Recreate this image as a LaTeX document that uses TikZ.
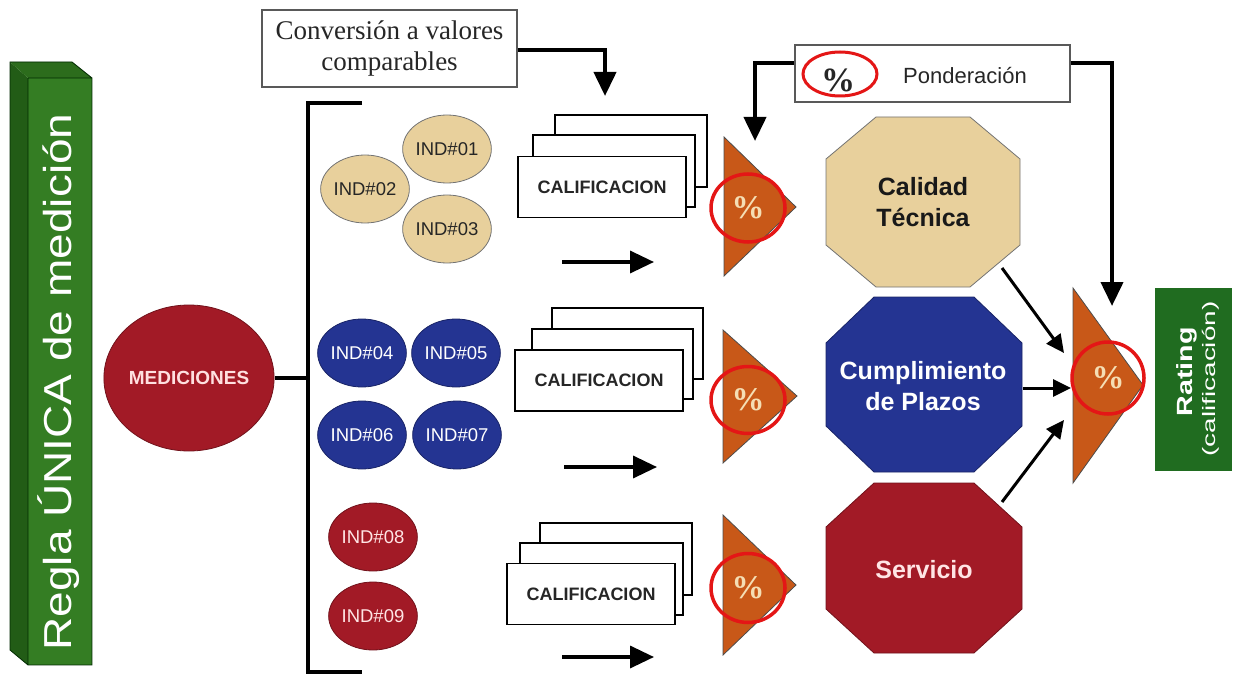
\documentclass[tikz,border=0pt]{standalone}
\usepackage{graphicx}
\usepackage{fontspec}
\setmainfont{Liberation Sans}
\newfontfamily\serifface{Liberation Serif}
\usetikzlibrary{arrows.meta,shapes.geometric}

\definecolor{barfront}{RGB}{52,125,35}
\definecolor{barside}{RGB}{34,92,22}
\definecolor{bartop}{RGB}{44,108,28}
\definecolor{ratinggreen}{RGB}{32,108,32}
\definecolor{tanfill}{RGB}{232,208,156}
\definecolor{bluefill}{RGB}{36,52,146}
\definecolor{redfill}{RGB}{162,26,38}
\definecolor{wedge}{RGB}{200,88,24}
\definecolor{ringred}{RGB}{228,22,22}
\definecolor{pctcream}{RGB}{245,222,180}

% octagon with centre (#1,#2), half sizes #3,#4 and corner cuts #5,#6
\newcommand\octapath[6]{%
  ({#1-#3+#5},{#2-#4}) -- ({#1+#3-#5},{#2-#4}) -- ({#1+#3},{#2-#4+#6}) --
  ({#1+#3},{#2+#4-#6}) -- ({#1+#3-#5},{#2+#4}) -- ({#1-#3+#5},{#2+#4}) --
  ({#1-#3},{#2+#4-#6}) -- ({#1-#3},{#2-#4+#6}) -- cycle}

\begin{document}
\begin{tikzpicture}[x=1pt,y=-1pt,
  ind/.style={ellipse, minimum width=82, minimum height=68, inner sep=0pt,
    font=\fontsize{18.5}{20}\selectfont},
  indtan/.style={ind, fill=tanfill, draw=black!55, line width=0.8, text=black!85},
  indblue/.style={ind, fill=bluefill, draw=bluefill!70!black, line width=0.8, text=white},
  indred/.style={ind, fill=redfill, draw=redfill!70!black, line width=0.8, text=white!90!red},
  calif/.style={draw=black, line width=1.3, fill=white},
  califfront/.style={calif, minimum width=168, minimum height=61, inner sep=0pt,
    font=\fontsize{18}{20}\selectfont\bfseries, text=black!85},
  wedgeshape/.style={fill=wedge, draw=black!70, line width=0.8},
  ring/.style={draw=ringred, line width=3.5},
  pct/.style={font=\serifface\fontsize{33}{33}\selectfont\bfseries, text=pctcream},
  flow/.style={line width=3.5, -{Triangle[length=24, width=22]}},
  feed/.style={line width=3, -{Triangle[length=18, width=17]}},
  bracket/.style={line width=3.5},
  octlabel/.style={align=center, font=\fontsize{25}{31}\selectfont\bfseries},
  textbox/.style={draw=black!65, line width=1.3, fill=white}
]
\useasboundingbox (0,0) rectangle (1236,679);

% --- left vertical bar -------------------------------------------------
\fill[barside] (10,62) -- (28,78) -- (28,665) -- (10,650) -- cycle;
\fill[bartop] (10,62) -- (72,62) -- (92,78) -- (28,78) -- cycle;
\fill[barfront] (28,78) rectangle (92,665);
\draw[black!60!green!40!black, line width=0.8]
  (10,62) -- (72,62) -- (92,78) -- (92,665) -- (28,665) -- (10,650) -- cycle
  (28,78) -- (92,78) (28,78) -- (28,665);
\node[rotate=90, text=white, font=\fontsize{39}{40}\selectfont] (regla) at (59,382)
  {\scalebox{1.18}[1]{Regla ÚNICA de medición}};

% --- measurements and bracket -----------------------------------------
\node[ellipse, fill=redfill, draw=redfill!70!black, line width=0.8,
  minimum width=168, minimum height=146, inner sep=0pt,
  text=white!88!red, font=\fontsize{19}{20}\selectfont\bfseries] (med) at (189,378) {MEDICIONES};
\coordinate (brtopR) at (362,103);
\coordinate (brtop) at (308,103);
\coordinate (brmid) at (308,378);
\coordinate (brbot) at (308,672);
\coordinate (brbotR) at (362,672);
\draw[bracket] (brtopR) -- (brtop) -- (brbot) -- (brbotR);
\draw[bracket] (med.east) -- (brmid);

% indicators
\node[indtan] (i1) at (447,149) {IND\#01};
\node[indtan] (i2) at (365,189) {IND\#02};
\node[indtan] (i3) at (447,229) {IND\#03};
\node[indblue] (i4) at (362,353) {IND\#04};
\node[indblue] (i5) at (456,353) {IND\#05};
\node[indblue] (i6) at (362,435) {IND\#06};
\node[indblue] (i7) at (457,435) {IND\#07};
\node[indred] (i8) at (373,537) {IND\#08};
\node[indred] (i9) at (373,616) {IND\#09};

% --- conversion note ---------------------------------------------------
\node[textbox, minimum width=255, minimum height=77, inner sep=0pt, align=center,
  font=\serifface\fontsize{27}{31}\selectfont, text=black!85] (conv) at (389.5,48.5)
  {Conversión a valores\\comparables};
\coordinate (convturn) at (605,50);
\coordinate (convend) at (605,96);
\draw[flow, line width=4] (conv.east |- convturn) -- (convturn) -- (convend);

% --- score stacks ------------------------------------------------------
% row 1
\draw[calif] (555,115) rectangle (707,187);
\draw[calif] (533,135) rectangle (695,207);
\node[califfront] (cal1) at (602,187) {CALIFICACION};
% row 2
\draw[calif] (552,308) rectangle (703,379);
\draw[calif] (532,329) rectangle (693,399);
\node[califfront] (cal2) at (599,380.5) {CALIFICACION};
% row 3
\draw[calif] (540,523) rectangle (692,595);
\draw[calif] (520,543) rectangle (683,615);
\node[califfront] (cal3) at (591,594) {CALIFICACION};

% short arrows below stacks
\coordinate (a1s) at (562,262); \coordinate (a1e) at (654,262);
\coordinate (a2s) at (564,467); \coordinate (a2e) at (657,467);
\coordinate (a3s) at (562,657); \coordinate (a3e) at (654,657);
\draw[flow] (a1s) -- (a1e);
\draw[flow] (a2s) -- (a2e);
\draw[flow] (a3s) -- (a3e);

% weighting wedges
\draw[wedgeshape] (724,137) -- (724,276) -- (796,207) -- cycle;
\draw[wedgeshape] (723,330) -- (723,463) -- (797,396) -- cycle;
\draw[wedgeshape] (723,515) -- (723,655) -- (796,585) -- cycle;
\node[ellipse, ring, minimum width=74, minimum height=68, inner sep=0pt] (r1) at (748,208) {};
\node[ellipse, ring, minimum width=74, minimum height=67, inner sep=0pt] (r2) at (748,400) {};
\node[ellipse, ring, minimum width=74, minimum height=69, inner sep=0pt] (r3) at (748,588) {};
\node[pct] at (r1) {\%};
\node[pct] at (r2) {\%};
\node[pct] at (r3) {\%};

% --- aspects -----------------------------------------------------------
\fill[tanfill] \octapath{923}{202}{97}{85}{50}{42};
\draw[black!55, line width=0.8] \octapath{923}{202}{97}{85}{50}{42};
\fill[bluefill] \octapath{924}{384.5}{98}{87.5}{48}{46};
\draw[bluefill!70!black, line width=0.8] \octapath{924}{384.5}{98}{87.5}{48}{46};
\fill[redfill] \octapath{924}{568}{98}{85}{48}{44};
\draw[redfill!70!black, line width=0.8] \octapath{924}{568}{98}{85}{48}{44};
\node[octlabel, text=black!90] (cal) at (923,202) {Calidad\\Técnica};
\node[octlabel, text=white] (cum) at (923,386) {Cumplimiento\\de Plazos};
\node[octlabel, text=white!90!red] (ser) at (924,570) {Servicio};

% --- weighting note ----------------------------------------------------
\node[textbox, minimum width=275, minimum height=57, inner sep=0pt] (pond) at (932.5,73.5) {};
\node[ellipse, ring, line width=3, minimum width=74, minimum height=44, inner sep=0pt] (pring) at (840,74) {};
\node[font=\serifface\fontsize{34}{34}\selectfont\bfseries, text=black!85] at (838,80) {\%};
\node[font=\fontsize{22}{24}\selectfont, text=black!85] (pondtxt) at (965,76) {Ponderación};
\coordinate (pl) at (755,63);
\coordinate (plend) at (755,141);
\coordinate (pr) at (1112,63);
\coordinate (prend) at (1112,306);
\draw[flow, line width=4] (pond.west |- pl) -- (pl) -- (plend);
\draw[flow, line width=4] (pond.east |- pr) -- (pr) -- (prend);

% --- final weighting and rating ----------------------------------------
\draw[wedgeshape] (1073,288) -- (1073,483) -- (1143,385) -- cycle;
\node[ellipse, ring, minimum width=72, minimum height=72, inner sep=0pt] (rf) at (1108,378) {};
\node[pct] at (rf) {\%};

\coordinate (cal-out) at (1002,268);
\coordinate (cal-in) at (1064,353);
\coordinate (cum-out) at (1023,388);
\coordinate (cum-in) at (1071,388);
\coordinate (ser-out) at (1002,502);
\coordinate (ser-in) at (1064,420);
\draw[feed] (cal-out) -- (cal-in);
\draw[feed] (cum-out) -- (cum-in);
\draw[feed] (ser-out) -- (ser-in);

\fill[ratinggreen] (1155,288) rectangle (1232,471);
\node[rotate=90, text=white, font=\fontsize{22}{24}\selectfont\bfseries] (rating) at (1187,372)
  {\scalebox{1.3}[1]{Rating}};
\node[rotate=90, text=white, font=\fontsize{18}{20}\selectfont] (ratingsub) at (1211,379)
  {\scalebox{1.55}[1]{(calificación)}};
\end{tikzpicture}
\end{document}
